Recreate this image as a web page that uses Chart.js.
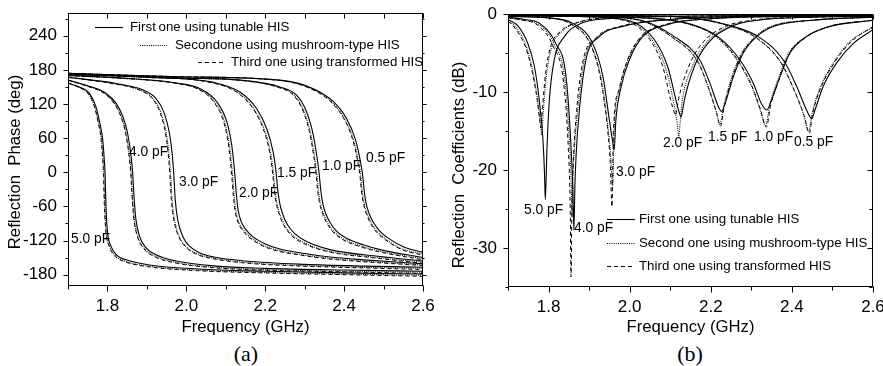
<!DOCTYPE html>
<html>
<head>
<meta charset="utf-8">
<script src="https://cdn.jsdelivr.net/npm/chart.js@4.4.1/dist/chart.umd.min.js"></script>
<style>
  html, body { margin: 0; padding: 0; background: #fff; }
  #wrap { position: relative; width: 883px; height: 366px; overflow: hidden; }
  canvas { position: absolute; top: 0; }
  #chartA { left: 0; }
  #chartB { left: 441px; }
  .caption { position: absolute; top: 342px; width: 60px; text-align: center;
             font-family: 'Liberation Serif', 'Times New Roman', serif; font-size: 22px; line-height: 24px; }
</style>
</head>
<body>
<div id="wrap">
  <canvas id="chartA" width="441" height="340"></canvas>
  <canvas id="chartB" width="442" height="340"></canvas>
  <div class="caption" style="left: 216px;">(a)</div>
  <div class="caption" style="left: 660px;">(b)</div>
</div>
<script>
// ===== 共通データ =====
const capLabels = ['5.0 pF', '4.0 pF', '3.0 pF', '2.0 pF', '1.5 pF', '1.0 pF', '0.5 pF'];
const freqTicks = [1.8, 2.0, 2.2, 2.4, 2.6];
const freqMinorTicks = [1.7, 1.9, 2.1, 2.3, 2.5];
const phaseTicks = [-180, -120, -60, 0, 60, 120, 180, 240];
const phaseMinorTicks = [-150, -90, -30, 30, 90, 150, 210, 270];
const coefTicks = [-30, -20, -10, 0];
const coefMinorTicks = [-35, -25, -15, -5];

// ===== (a) Reflection phase (deg) — one row per capacitance, same order as capLabels =====
const phaseFreqTunable = [
  [1.700, 1.729, 1.754, 1.771, 1.779, 1.788, 1.792, 1.794, 1.796, 1.800, 1.809, 1.822, 1.847, 1.906, 2.030, 2.200, 2.400, 2.600],
  [1.700, 1.746, 1.796, 1.822, 1.839, 1.851, 1.860, 1.864, 1.868, 1.872, 1.881, 1.898, 1.923, 1.974, 2.075, 2.200, 2.400, 2.600],
  [1.700, 1.822, 1.889, 1.923, 1.944, 1.957, 1.964, 1.968, 1.972, 1.978, 1.991, 2.008, 2.035, 2.070, 2.150, 2.300, 2.450, 2.600],
  [1.700, 1.850, 1.984, 2.035, 2.077, 2.103, 2.115, 2.119, 2.123, 2.127, 2.131, 2.138, 2.150, 2.170, 2.200, 2.237, 2.300, 2.364, 2.450, 2.600],
  [1.700, 1.900, 2.069, 2.136, 2.178, 2.2035, 2.220, 2.228, 2.232, 2.237, 2.244, 2.256, 2.275, 2.300, 2.364, 2.491, 2.600],
  [1.700, 1.984, 2.153, 2.237, 2.280, 2.305, 2.322, 2.3305, 2.337, 2.341, 2.346, 2.353, 2.364, 2.380, 2.406, 2.450, 2.491, 2.600],
  [1.700, 1.984, 2.237, 2.322, 2.373, 2.4065, 2.428, 2.440, 2.447, 2.451, 2.456, 2.463, 2.474, 2.490, 2.510, 2.550, 2.600]
];
const phaseTunable = [
  [157, 150, 139, 115, 92, 57, 22, -2, -55, -104, -130, -145, -154, -163, -170, -174, -177, -179],
  [162, 153, 139, 121, 98, 69, 28, -2, -49, -82, -112, -133, -145, -156, -165, -169, -172, -174],
  [167, 156, 145, 130, 104, 69, 33, -2, -49, -83, -113, -130, -142, -149, -156, -162, -165, -167],
  [170, 165, 156, 147, 124, 88, 48, 25, -4, -40, -65, -85, -100, -114, -126, -135, -143, -149, -154, -161],
  [172, 167, 158, 141, 112, 77, 36, -3, -33, -55, -73, -92, -108, -120, -136, -148, -156],
  [173, 166, 161, 150, 135, 106, 65, 30, -4, -33, -55, -72, -88, -103, -116, -128, -136, -150],
  [174, 168, 162, 147, 124, 94, 59, 24, -5, -33, -55, -72, -88, -103, -115, -131, -141]
];
const phaseFreqMushroom = [
  [1.700, 1.726, 1.751, 1.768, 1.776, 1.785, 1.789, 1.791, 1.793, 1.797, 1.806, 1.819, 1.844, 1.903, 2.027, 2.197, 2.397, 2.600],
  [1.700, 1.742, 1.792, 1.818, 1.835, 1.847, 1.856, 1.860, 1.864, 1.868, 1.877, 1.894, 1.919, 1.970, 2.071, 2.196, 2.396, 2.600],
  [1.700, 1.814, 1.881, 1.915, 1.936, 1.949, 1.956, 1.960, 1.964, 1.970, 1.983, 2.000, 2.027, 2.062, 2.142, 2.292, 2.442, 2.600],
  [1.700, 1.844, 1.978, 2.029, 2.071, 2.097, 2.109, 2.113, 2.117, 2.121, 2.125, 2.132, 2.144, 2.164, 2.194, 2.231, 2.294, 2.358, 2.444, 2.600],
  [1.700, 1.893, 2.062, 2.129, 2.171, 2.1965, 2.213, 2.221, 2.225, 2.230, 2.237, 2.249, 2.268, 2.293, 2.357, 2.484, 2.600],
  [1.700, 1.978, 2.147, 2.231, 2.274, 2.299, 2.316, 2.3245, 2.331, 2.335, 2.340, 2.347, 2.358, 2.374, 2.400, 2.444, 2.485, 2.600],
  [1.700, 1.979, 2.232, 2.317, 2.368, 2.4015, 2.423, 2.435, 2.442, 2.446, 2.451, 2.458, 2.469, 2.485, 2.505, 2.545, 2.600]
];
const phaseMushroom = [
  [157, 150, 139, 115, 92, 57, 22, -2, -55, -104, -131, -146, -156, -165, -172, -176, -179, -181],
  [162, 153, 139, 121, 98, 69, 28, -2, -49, -82, -113, -134, -147, -158, -167, -171, -174, -176],
  [167, 156, 145, 130, 104, 69, 33, -2, -49, -83, -114, -131, -143, -150, -158, -164, -167, -169],
  [170, 165, 156, 147, 124, 88, 48, 25, -4, -40, -65, -86, -101, -115, -128, -137, -145, -151, -156, -163],
  [172, 167, 158, 141, 112, 77, 36, -3, -33, -55, -73, -93, -110, -122, -138, -150, -158],
  [173, 166, 161, 150, 135, 106, 65, 30, -4, -33, -55, -72, -89, -104, -118, -130, -138, -152],
  [174, 168, 162, 147, 124, 94, 59, 24, -5, -33, -55, -72, -89, -105, -117, -134, -144]
];
const phaseFreqTransformed = [
  [1.700, 1.725, 1.750, 1.767, 1.775, 1.784, 1.788, 1.790, 1.792, 1.796, 1.805, 1.818, 1.843, 1.902, 2.026, 2.196, 2.396, 2.600],
  [1.700, 1.741, 1.791, 1.817, 1.834, 1.846, 1.855, 1.859, 1.863, 1.867, 1.876, 1.893, 1.918, 1.969, 2.070, 2.195, 2.395, 2.600],
  [1.700, 1.812, 1.879, 1.913, 1.934, 1.947, 1.954, 1.958, 1.962, 1.968, 1.981, 1.998, 2.025, 2.060, 2.140, 2.290, 2.440, 2.600],
  [1.700, 1.842, 1.976, 2.027, 2.069, 2.095, 2.107, 2.111, 2.115, 2.119, 2.123, 2.130, 2.142, 2.162, 2.192, 2.229, 2.292, 2.356, 2.442, 2.600],
  [1.700, 1.891, 2.060, 2.127, 2.169, 2.1945, 2.211, 2.219, 2.223, 2.228, 2.235, 2.247, 2.266, 2.291, 2.355, 2.482, 2.600],
  [1.700, 1.976, 2.145, 2.229, 2.272, 2.297, 2.314, 2.3225, 2.329, 2.333, 2.338, 2.345, 2.356, 2.372, 2.398, 2.442, 2.483, 2.600],
  [1.700, 1.977, 2.230, 2.315, 2.366, 2.3995, 2.421, 2.433, 2.440, 2.444, 2.449, 2.456, 2.467, 2.483, 2.503, 2.543, 2.600]
];
const phaseTransformed = [
  [157, 150, 139, 115, 92, 57, 22, -2, -55, -104, -131, -147, -157, -166, -173, -177, -180, -183],
  [162, 153, 139, 121, 98, 69, 28, -2, -49, -82, -113, -135, -148, -159, -168, -172, -175, -178],
  [167, 156, 145, 130, 104, 69, 33, -2, -49, -83, -114, -131, -144, -151, -159, -165, -168, -171],
  [170, 165, 156, 147, 124, 88, 48, 25, -4, -40, -65, -86, -102, -116, -129, -138, -146, -152, -157, -164],
  [172, 167, 158, 141, 112, 77, 36, -3, -33, -55, -73, -93, -111, -123, -139, -151, -160],
  [173, 166, 161, 150, 135, 106, 65, 30, -4, -33, -55, -72, -89, -105, -119, -131, -139, -154],
  [174, 168, 162, 147, 124, 94, 59, 24, -5, -33, -55, -72, -90, -106, -118, -135, -146]
];
// capacitance label anchors (GHz, deg)
const phaseLabelFreq = [1.7076, 1.8547, 1.9814, 2.1336, 2.2299, 2.3440, 2.4556];
const phaseLabelValue = [-117, 36, -17, -36, -1, 11, 25];

// ===== (b) Reflection coefficients (dB) =====
const coefFreqTunable = [
  [1.700, 1.724, 1.749, 1.765, 1.777, 1.786, 1.790, 1.792, 1.796, 1.802, 1.814, 1.839, 1.880, 1.946, 2.100, 2.300, 2.600],
  [1.700, 1.740, 1.778, 1.818, 1.843, 1.855, 1.860, 1.8625, 1.865, 1.868, 1.876, 1.892, 1.925, 1.983, 2.100, 2.300, 2.600],
  [1.700, 1.800, 1.860, 1.909, 1.934, 1.950, 1.957, 1.962, 1.966, 1.979, 1.999, 2.032, 2.090, 2.200, 2.400, 2.600],
  [1.700, 1.850, 1.995, 2.061, 2.094, 2.114, 2.122, 2.1265, 2.131, 2.135, 2.159, 2.192, 2.250, 2.316, 2.450, 2.600],
  [1.700, 1.900, 2.028, 2.110, 2.173, 2.198, 2.219, 2.227, 2.235, 2.256, 2.280, 2.313, 2.354, 2.450, 2.600],
  [1.700, 2.000, 2.150, 2.220, 2.272, 2.305, 2.325, 2.338, 2.350, 2.371, 2.395, 2.436, 2.494, 2.600],
  [1.700, 2.100, 2.250, 2.320, 2.379, 2.412, 2.436, 2.449, 2.457, 2.477, 2.510, 2.551, 2.600]
];
const coefTunable = [
  [-0.7, -1.5, -3.8, -6.7, -11, -16, -20.4, -23.8, -17.4, -11, -5.9, -2.9, -1.2, -0.6, -0.3, -0.2, -0.1],
  [-0.4, -0.7, -1.2, -3.8, -8, -16.6, -22.5, -27.7, -22, -18, -12.3, -5.9, -2.9, -1.6, -0.7, -0.3, -0.2],
  [-0.3, -0.5, -1.2, -3.8, -8, -13.6, -16, -17.4, -13.6, -9.3, -5.9, -2.9, -1.4, -0.6, -0.3, -0.2],
  [-0.2, -0.3, -0.8, -3.3, -6.8, -11, -12.6, -13.2, -12.2, -11, -6.8, -3.8, -1.6, -0.8, -0.4, -0.3],
  [-0.2, -0.3, -0.8, -2.9, -5.9, -8.9, -11.9, -12.5, -11.5, -8, -5, -2.9, -1.6, -0.8, -0.4],
  [-0.1, -0.4, -1.3, -3, -5.9, -8.9, -11.5, -12.3, -11, -8, -5, -2.9, -1.6, -0.8],
  [-0.1, -0.3, -1.5, -3, -5.9, -9.3, -12.3, -13.4, -12.3, -9.3, -6.3, -3.8, -2.0]
];
const coefFreqMushroom = [
  [1.700, 1.721, 1.746, 1.761, 1.773, 1.780, 1.783, 1.787, 1.795, 1.807, 1.832, 1.872, 1.942, 2.100, 2.300, 2.600],
  [1.700, 1.738, 1.775, 1.815, 1.840, 1.852, 1.856, 1.858, 1.860, 1.864, 1.872, 1.888, 1.921, 1.979, 2.100, 2.300, 2.600],
  [1.700, 1.800, 1.856, 1.905, 1.930, 1.946, 1.953, 1.958, 1.962, 1.975, 1.995, 2.028, 2.087, 2.200, 2.400, 2.600],
  [1.700, 1.850, 1.990, 2.056, 2.089, 2.109, 2.117, 2.121, 2.125, 2.130, 2.154, 2.187, 2.245, 2.311, 2.450, 2.600],
  [1.700, 1.900, 2.023, 2.105, 2.168, 2.193, 2.214, 2.2225, 2.231, 2.251, 2.275, 2.308, 2.349, 2.450, 2.600],
  [1.700, 2.000, 2.145, 2.215, 2.267, 2.300, 2.321, 2.335, 2.346, 2.367, 2.391, 2.432, 2.490, 2.600],
  [1.700, 2.100, 2.243, 2.313, 2.372, 2.405, 2.429, 2.4415, 2.450, 2.470, 2.503, 2.544, 2.600]
];
const coefMushroom = [
  [-0.8, -1.8, -4.3, -7.3, -11, -14, -15.5, -12.5, -7.8, -4.4, -2.3, -1.1, -0.5, -0.3, -0.2, -0.1],
  [-0.5, -0.8, -1.3, -4, -8.5, -17, -22, -26, -21, -17, -12.3, -6, -3, -1.6, -0.7, -0.3, -0.2],
  [-0.3, -0.5, -1.3, -4, -8.4, -14.3, -18, -22, -14.5, -9.6, -6, -3, -1.4, -0.6, -0.3, -0.2],
  [-0.2, -0.3, -0.8, -3.4, -7, -11.5, -14, -15.7, -13.5, -11, -6.8, -3.8, -1.6, -0.8, -0.4, -0.3],
  [-0.2, -0.3, -0.8, -3, -6.1, -9.3, -12.6, -14.2, -12, -8.2, -5.1, -3, -1.6, -0.8, -0.4],
  [-0.1, -0.4, -1.3, -3, -6.1, -9.2, -12.2, -14.3, -11.5, -8.2, -5.1, -3, -1.6, -0.8],
  [-0.1, -0.3, -1.5, -3.1, -6.2, -9.7, -12.9, -15, -12.7, -9.4, -6.2, -3.5, -1.7]
];
const coefFreqTransformed = [
  [1.700, 1.720, 1.745, 1.760, 1.772, 1.778, 1.781, 1.785, 1.793, 1.805, 1.830, 1.870, 1.940, 2.100, 2.300, 2.600],
  [1.700, 1.736, 1.772, 1.812, 1.837, 1.849, 1.8535, 1.8555, 1.8575, 1.861, 1.869, 1.885, 1.918, 1.976, 2.100, 2.300, 2.600],
  [1.700, 1.800, 1.855, 1.904, 1.929, 1.945, 1.952, 1.9564, 1.960, 1.973, 1.993, 2.026, 2.085, 2.200, 2.400, 2.600],
  [1.700, 1.850, 1.985, 2.050, 2.082, 2.101, 2.109, 2.113, 2.117, 2.121, 2.145, 2.178, 2.236, 2.303, 2.450, 2.600],
  [1.700, 1.900, 2.024, 2.106, 2.169, 2.194, 2.215, 2.224, 2.232, 2.252, 2.276, 2.309, 2.350, 2.450, 2.600],
  [1.700, 2.000, 2.147, 2.217, 2.269, 2.302, 2.323, 2.337, 2.348, 2.369, 2.393, 2.434, 2.492, 2.600],
  [1.700, 2.100, 2.244, 2.314, 2.373, 2.406, 2.430, 2.443, 2.451, 2.471, 2.504, 2.545, 2.600]
];
const coefTransformed = [
  [-0.9, -2, -4.5, -7.5, -11, -13.5, -14.6, -12, -7.5, -4.2, -2.2, -1.1, -0.5, -0.3, -0.2, -0.1],
  [-0.5, -0.8, -1.4, -4.2, -8.8, -17.5, -25, -33.7, -25, -19, -12.5, -6, -3, -1.6, -0.7, -0.3, -0.2],
  [-0.3, -0.5, -1.3, -4, -8.5, -14.5, -19, -24.7, -15, -9.8, -6.1, -3, -1.4, -0.6, -0.3, -0.2],
  [-0.2, -0.3, -0.8, -3.3, -6.8, -11, -12.5, -13, -12, -10.8, -6.8, -3.8, -1.6, -0.8, -0.4, -0.3],
  [-0.2, -0.3, -0.8, -3, -6.2, -9.4, -12.8, -14.4, -12.2, -8.3, -5.2, -3, -1.6, -0.8, -0.4],
  [-0.1, -0.4, -1.3, -3, -6.1, -9.3, -12.3, -14.5, -11.6, -8.3, -5.2, -3, -1.6, -0.8],
  [-0.1, -0.3, -1.5, -3.1, -6.2, -9.8, -13, -15.3, -12.8, -9.5, -6.3, -3.6, -1.6]
];
const coefLabelFreq = [1.7394, 1.8627, 1.9663, 2.0822, 2.1931, 2.3065, 2.4051];
const coefLabelValue = [-25.1, -27.4, -20.3, -16.5, -15.8, -15.8, -16.4];

// ===== 描画スタイル =====
const FONT = "'Liberation Sans', Arial, Helvetica, sans-serif";
const lineStyles = [
  { borderColor: '#000', borderWidth: 1.1, borderDash: [] },        // tunable (solid)
  { borderColor: '#111', borderWidth: 1.1, borderDash: [1, 1.2] },  // mushroom (dotted)
  { borderColor: '#000', borderWidth: 1, borderDash: [4, 3] }       // transformed (dashed)
];

function buildDatasets(freqSets, valueSets) {
  const datasets = [];
  freqSets.forEach((rows, s) => {
    rows.forEach((freqs, c) => {
      datasets.push({
        label: capLabels[c] + ' #' + s,
        data: freqs.map((f, i) => ({ x: f, y: valueSets[s][c][i] })),
        borderColor: lineStyles[s].borderColor,
        borderWidth: lineStyles[s].borderWidth,
        borderDash: lineStyles[s].borderDash,
        pointRadius: 0,
        fill: false,
        cubicInterpolationMode: 'monotone'
      });
    });
  });
  return datasets;
}

// ===== 枠・目盛・凡例・注記のプラグイン =====
const panelDecor = {
  id: 'panelDecor',
  afterDraw(chart, args, o) {
    const { ctx, chartArea: a } = chart;
    const xs = chart.scales.x, ys = chart.scales.y;
    ctx.save();
    ctx.strokeStyle = '#000';
    ctx.fillStyle = '#000';
    ctx.lineWidth = 1;
    ctx.setLineDash([]);
    const L = Math.round(a.left) + 0.5, R = Math.round(a.right) - 0.5;
    const T = Math.round(a.top) + 0.5, B = Math.round(a.bottom) - 0.5;
    ctx.strokeRect(L, T, R - L, B - T);
    const seg = (x1, y1, x2, y2) => { ctx.beginPath(); ctx.moveTo(x1, y1); ctx.lineTo(x2, y2); ctx.stroke(); };

    [[freqTicks, 0], [freqMinorTicks, 1]].forEach(([vals, k]) => vals.forEach(v => {
      const px = Math.round(xs.getPixelForValue(v)) + 0.5;
      seg(px, B, px, B + o.tickLen.bottom[k]);
      seg(px, T, px, T - o.tickLen.top[k]);
    }));
    [[o.yTicks, 0], [o.yMinor, 1]].forEach(([vals, k]) => vals.forEach(v => {
      const py = Math.round(ys.getPixelForValue(v)) + 0.5;
      seg(L, py, L - o.tickLen.left[k], py);
      seg(R, py, R + o.tickLen.right[k], py);
    }));

    // axis titles
    ctx.font = '16.7px ' + FONT;
    ctx.textAlign = 'center';
    ctx.textBaseline = 'middle';
    ctx.fillText('Frequency (GHz)', (a.left + a.right) / 2, o.xTitleY);
    ctx.save();
    ctx.translate(o.yTitleX, o.yTitleY);
    ctx.rotate(-Math.PI / 2);
    ctx.fillText(o.yTitle, 0, 0);
    ctx.restore();

    // capacitance labels
    ctx.font = '13.8px ' + FONT;
    ctx.textAlign = 'left';
    capLabels.forEach((t, i) => {
      ctx.fillText(t, xs.getPixelForValue(o.labelFreq[i]), ys.getPixelForValue(o.labelValue[i]));
    });

    // legend
    ctx.font = '13.3px ' + FONT;
    o.legend.forEach((item, s) => {
      ctx.save();
      ctx.lineWidth = lineStyles[s].borderWidth;
      ctx.setLineDash(lineStyles[s].borderDash);
      seg(item.x1, item.y + 0.5, item.x2, item.y + 0.5);
      ctx.restore();
      ctx.fillText(item.text, item.tx, item.y + 0.5);
    });
    ctx.restore();
  }
};

// ラベルの自動余白を無効にして、プロット領域を固定する
function noPad(s) {
  s.paddingLeft = 0; s.paddingRight = 0; s.paddingTop = 0; s.paddingBottom = 0;
}

function makePanel(canvasId, p) {
  return new Chart(document.getElementById(canvasId), {
    type: 'line',
    data: { datasets: buildDatasets(p.freqs, p.values) },
    options: {
      responsive: false,
      animation: false,
      events: [],
      layout: { padding: p.padding, autoPadding: false },
      plugins: { legend: { display: false }, tooltip: { enabled: false }, panelDecor: p.decor },
      scales: {
        x: {
          type: 'linear', min: 1.7, max: 2.6,
          afterBuildTicks: s => { s.ticks = freqTicks.map(v => ({ value: v })); },
          afterFit: s => { s.height = p.xAxisHeight; noPad(s); },
          ticks: { callback: v => v.toFixed(1), font: { family: FONT, size: 17 }, color: '#000',
                   padding: 10, maxRotation: 0, autoSkip: false },
          grid: { display: false, drawTicks: false },
          border: { display: false }
        },
        y: {
          type: 'linear', min: p.yMin, max: p.yMax,
          afterBuildTicks: s => { s.ticks = p.decor.yTicks.map(v => ({ value: v })); },
          afterFit: s => { s.width = p.yAxisWidth; noPad(s); },
          ticks: { callback: v => String(v), font: { family: FONT, size: 17 }, color: '#000',
                   padding: 11, autoSkip: false },
          grid: { display: false, drawTicks: false },
          border: { display: false }
        }
      }
    },
    plugins: [panelDecor]
  });
}

makePanel('chartA', {
  freqs: [phaseFreqTunable, phaseFreqMushroom, phaseFreqTransformed],
  values: [phaseTunable, phaseMushroom, phaseTransformed],
  yMin: -200, yMax: 280,
  padding: { left: 0, right: 18, top: 13, bottom: 0 },
  xAxisHeight: 54, yAxisWidth: 68,
  decor: {
    yTicks: phaseTicks, yMinor: phaseMinorTicks,
    tickLen: { bottom: [6, 4], top: [-5, -5], left: [5, 3], right: [4, 2] },
    xTitleY: 327, yTitleX: 15, yTitleY: 162,
    yTitle: 'Reflection  Phase (deg)',
    labelFreq: phaseLabelFreq, labelValue: phaseLabelValue,
    legend: [
      { x1: 95, x2: 123, y: 27, tx: 130, text: 'First\u2009one using tunable HIS' },
      { x1: 140, x2: 167, y: 45, tx: 175, text: 'Secondone using mushroom-type HIS' },
      { x1: 198, x2: 223, y: 62, tx: 231, text: 'Third one using transformed HIS' }
    ]
  }
});

makePanel('chartB', {
  freqs: [coefFreqTunable, coefFreqMushroom, coefFreqTransformed],
  values: [coefTunable, coefMushroom, coefTransformed],
  yMin: -35, yMax: 0,
  padding: { left: 0, right: 10, top: 14, bottom: 0 },
  xAxisHeight: 53, yAxisWidth: 67,
  decor: {
    yTicks: coefTicks, yMinor: coefMinorTicks,
    tickLen: { bottom: [6, 4], top: [-5, -5], left: [5, 3], right: [-5, -3] },
    xTitleY: 327, yTitleX: 18, yTitleY: 165,
    yTitle: 'Reflection  Coefficients (dB)',
    labelFreq: coefLabelFreq, labelValue: coefLabelValue,
    legend: [
      { x1: 166, x2: 194, y: 219, tx: 198, text: 'First one using tunable HIS' },
      { x1: 166, x2: 194, y: 243, tx: 198, text: 'Second one using mushroom-type HIS' },
      { x1: 166, x2: 194, y: 266, tx: 198, text: 'Third one using transformed HIS' }
    ]
  }
});
</script>
</body>
</html>
